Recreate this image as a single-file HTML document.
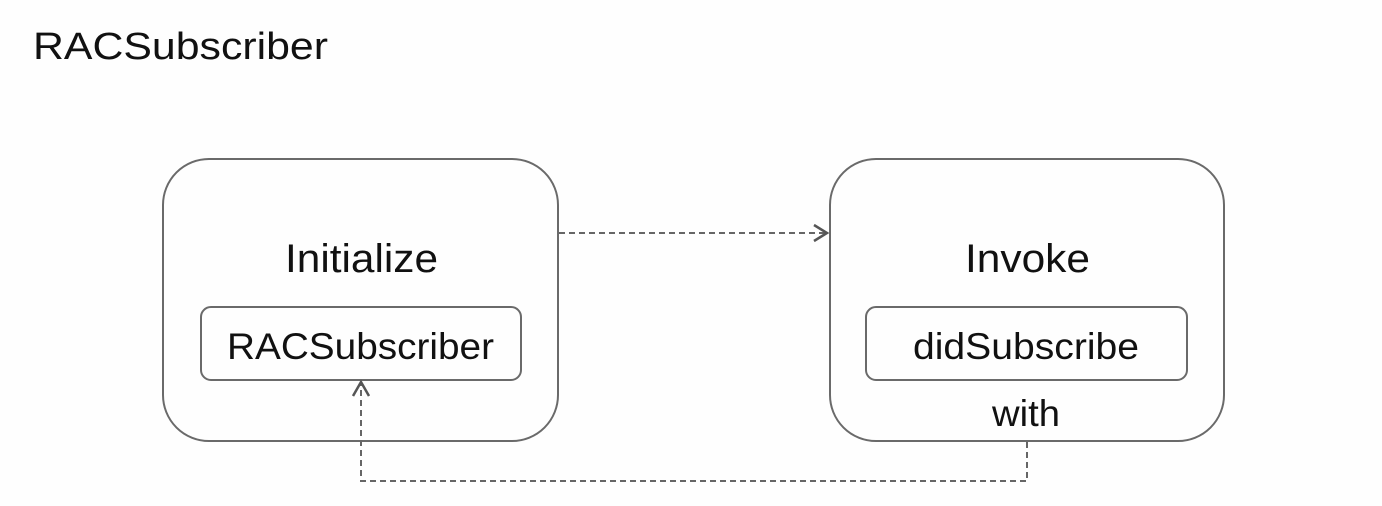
<!DOCTYPE html>
<html><head><meta charset="utf-8"><style>
html,body{margin:0;padding:0;background:#fefefe;}
svg{display:block}
text{font-family:"Liberation Sans",Arial,sans-serif;fill:#111;}
</style></head><body>
<svg width="1382" height="506" viewBox="0 0 1382 506" xmlns="http://www.w3.org/2000/svg">
<rect width="1382" height="506" fill="#fefefe"/>
<text x="33" y="59" font-size="38" textLength="295" lengthAdjust="spacingAndGlyphs">RACSubscriber</text>
<g fill="none" stroke="#6a6a6a" stroke-width="2">
<rect x="163" y="159" width="395" height="282" rx="46"/>
<rect x="201" y="307" width="320" height="73" rx="10"/>
<rect x="830" y="159" width="394" height="282" rx="46"/>
<rect x="866" y="307" width="321" height="73" rx="10"/>
</g>
<g fill="none" stroke="#666" stroke-width="2" stroke-dasharray="6,4">
<path d="M559 233 H826"/>
<path d="M1027 442 V481 H361 V384"/>
</g>
<g fill="none" stroke="#555" stroke-width="2.5">
<path d="M814 225 L827 233 L814 241"/>
<path d="M353 396 L361 382 L369 396"/>
</g>
<text x="285" y="272" font-size="40" textLength="153" lengthAdjust="spacingAndGlyphs">Initialize</text>
<text x="227" y="359" font-size="37" textLength="267" lengthAdjust="spacingAndGlyphs">RACSubscriber</text>
<text x="965" y="272" font-size="40" textLength="125" lengthAdjust="spacingAndGlyphs">Invoke</text>
<text x="913" y="359" font-size="37" textLength="226" lengthAdjust="spacingAndGlyphs">didSubscribe</text>
<text x="992" y="426" font-size="37" textLength="68" lengthAdjust="spacingAndGlyphs">with</text>
</svg>
</body></html>
